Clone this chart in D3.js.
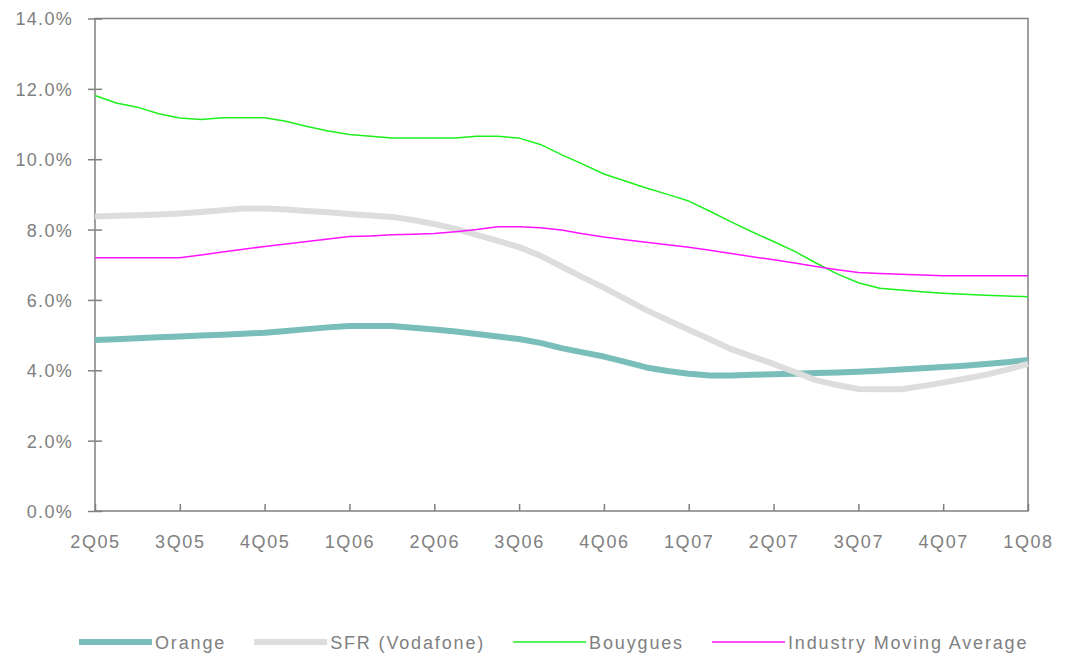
<!DOCTYPE html>
<html>
<head>
<meta charset="utf-8">
<script src="https://d3js.org/d3.v7.min.js"></script>
<style>
    body { margin: 0; background: #ffffff; }
    svg text { font-family: "Liberation Sans", Arial, sans-serif; fill: #808080; }
</style>
</head>
<body>
<div class="containerGraph"></div>
<script>
// quarter labels on the x-axis
var quarters = ["2Q05", "3Q05", "4Q05", "1Q06", "2Q06", "3Q06", "4Q06",
                "1Q07", "2Q07", "3Q07", "4Q07", "1Q08"];

// readings per quarter (4 steps between two quarters)
var stepsPerQuarter = 4;

// tick labels of the y-axis (percent)
var yTicks = [0, 2, 4, 6, 8, 10, 12, 14];

// series values, in percent, read every quarter of a quarter
var orange = [4.86, 4.88, 4.91, 4.94, 4.96, 4.99, 5.01, 5.04, 5.07, 5.12, 5.17, 5.22,
              5.26, 5.26, 5.26, 5.21, 5.16, 5.10, 5.03, 4.96, 4.89, 4.78, 4.63, 4.51,
              4.39, 4.24, 4.08, 3.98, 3.90, 3.85, 3.85, 3.87, 3.89, 3.90, 3.92, 3.94,
              3.96, 3.99, 4.02, 4.06, 4.09, 4.13, 4.18, 4.23, 4.29];

var sfr = [8.37, 8.39, 8.41, 8.43, 8.46, 8.50, 8.55, 8.60, 8.60, 8.57, 8.53, 8.49,
           8.44, 8.40, 8.36, 8.27, 8.16, 8.02, 7.85, 7.68, 7.50, 7.26, 6.95, 6.64,
           6.35, 6.03, 5.71, 5.43, 5.15, 4.88, 4.60, 4.39, 4.18, 3.95, 3.72, 3.58,
           3.47, 3.46, 3.46, 3.55, 3.65, 3.76, 3.87, 4.02, 4.18];

var bouygues = [11.81, 11.60, 11.48, 11.29, 11.17, 11.13, 11.18, 11.18, 11.18, 11.08, 10.93, 10.80,
                10.70, 10.65, 10.60, 10.60, 10.60, 10.60, 10.65, 10.65, 10.60, 10.42, 10.13, 9.86,
                9.58, 9.38, 9.18, 9.00, 8.81, 8.52, 8.22, 7.93, 7.66, 7.38, 7.05, 6.74,
                6.49, 6.33, 6.28, 6.23, 6.19, 6.16, 6.13, 6.11, 6.09];

var industry = [7.20, 7.20, 7.20, 7.20, 7.20, 7.28, 7.36, 7.44, 7.52, 7.59, 7.66, 7.73,
                7.80, 7.82, 7.85, 7.87, 7.89, 7.94, 8.00, 8.08, 8.08, 8.05, 7.99, 7.88,
                7.79, 7.71, 7.64, 7.57, 7.50, 7.41, 7.32, 7.23, 7.14, 7.05, 6.95, 6.86,
                6.78, 6.75, 6.73, 6.71, 6.69, 6.69, 6.69, 6.69, 6.69];

// names and looks of the series, in legend order
var seriesNames = ["Orange", "SFR (Vodafone)", "Bouygues", "Industry Moving Average"];
var seriesValues = [orange, sfr, bouygues, industry];
var seriesColors = ["#79bebb", "#dddddd", "#1ef01e", "#ff14ff"];
var seriesWidths = [6, 6, 1.5, 1.5];

// this function draws the line chart
function lineChart() {
    const width = 1072;
    const height = 656;
    const margin = {top: 18.5, bottom: 145, right: 44, left: 95};

    // make svg
    const svg = d3.select(".containerGraph")
                  .append("svg")
                  .attr("width", width)
                  .attr("height", height);

    var lastStep = (quarters.length - 1) * stepsPerQuarter;

    // scale for the x-axis (step index)
    var xScale = d3.scaleLinear()
                   .domain([0, lastStep])
                   .range([margin.left, width - margin.right]);

    // scale for the y-axis
    var yScale = d3.scaleLinear()
                   .domain([0, 14])
                   .range([height - margin.bottom, margin.top]);

    // frame round the plot
    svg.append("rect")
       .attr("x", xScale(0))
       .attr("y", yScale(14))
       .attr("width", xScale(lastStep) - xScale(0))
       .attr("height", yScale(0) - yScale(14))
       .attr("fill", "none")
       .attr("stroke", "#808080")
       .attr("stroke-width", 1.5);

    // y-axis
    const yAxis = d3.axisLeft()
                    .scale(yScale)
                    .tickValues(yTicks)
                    .tickSize(7)
                    .tickPadding(15)
                    .tickFormat(d => d.toFixed(1) + "%");

    var yG = svg.append("g")
                .attr("class", "yAxis")
                .attr("transform", "translate(" + margin.left + ",0)")
                .call(yAxis);
    yG.select(".domain").remove();
    yG.selectAll(".tick line")
      .attr("x1", 7)
      .attr("x2", -7)
      .attr("stroke", "#808080")
      .attr("stroke-width", 1.5);
    yG.selectAll("text")
      .attr("dy", "0.36em")
      .style("font-size", "18px")
      .style("letter-spacing", "1.3px")
      .style("fill", "#808080");

    // x-axis, ticks point into the plot
    const xAxis = d3.axisBottom()
                    .scale(xScale)
                    .tickValues(d3.range(0, lastStep + 1, stepsPerQuarter))
                    .tickSize(-7)
                    .tickPadding(24)
                    .tickFormat(d => quarters[d / stepsPerQuarter]);

    var xG = svg.append("g")
                .attr("class", "xAxis")
                .attr("transform", "translate(0," + (height - margin.bottom) + ")")
                .call(xAxis);
    xG.select(".domain").remove();
    xG.selectAll(".tick line")
      .attr("stroke", "#808080")
      .attr("stroke-width", 1.5);
    xG.selectAll("text")
      .style("font-size", "18px")
      .style("letter-spacing", "1.6px")
      .style("fill", "#808080");

    // line generator
    var line = d3.line()
                 .x((d, i) => xScale(i))
                 .y(d => yScale(d));

    // draw all series
    svg.selectAll(".series")
       .data(seriesValues)
       .enter()
       .append("path")
       .attr("class", "series")
       .attr("d", d => line(d))
       .attr("fill", "none")
       .attr("stroke", (d, i) => seriesColors[i])
       .attr("stroke-width", (d, i) => seriesWidths[i])
       .attr("stroke-linejoin", "round");

    // legend below the chart
    var legend = svg.append("g")
                    .attr("class", "legend")
                    .attr("transform", "translate(79,642)");
    var xPos = 0;
    for (var i = 0; i < seriesNames.length; i++) {
        legend.append("line")
              .attr("x1", xPos)
              .attr("x2", xPos + 73)
              .attr("y1", 0)
              .attr("y2", 0)
              .attr("stroke", seriesColors[i])
              .attr("stroke-width", seriesWidths[i]);
        var label = legend.append("text")
                          .attr("x", xPos + 76)
                          .attr("y", 7)
                          .style("font-size", "18px")
                          .style("letter-spacing", "1.85px")
                          .text(seriesNames[i]);
        xPos = xPos + 76 + label.node().getComputedTextLength() + 28;
    }
}

lineChart();
</script>
</body>
</html>
